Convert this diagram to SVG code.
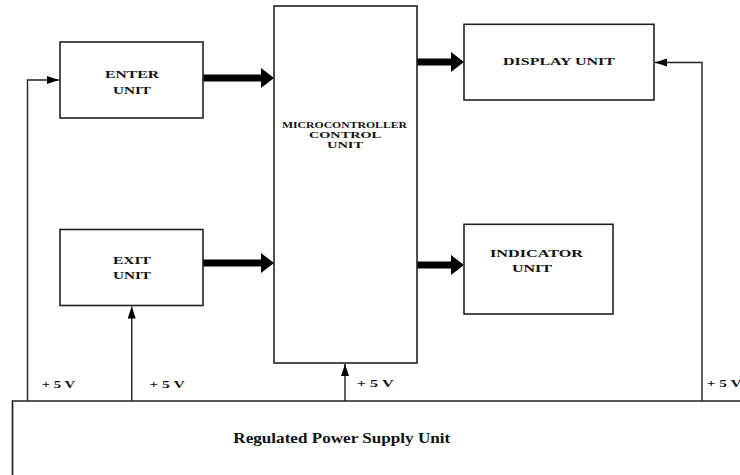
<svg xmlns="http://www.w3.org/2000/svg" width="740" height="475" viewBox="0 0 740 475">
<style>
.box{fill:#fff;stroke:#222;stroke-width:1.6}
.ln{fill:none;stroke:#222;stroke-width:1.4}
.thick{fill:#000;stroke:none}
.t{font-family:"Liberation Serif","Times New Roman",serif;font-weight:bold;fill:#111}
.s{font-size:10.5px}
.m{font-size:8px}
.v{font-size:10px}
.p{font-size:14px}
</style>
<defs>
<marker id="ah" markerUnits="userSpaceOnUse" markerWidth="13" markerHeight="9" refX="12" refY="4" orient="auto">
<path d="M0,0 L12,4 L0,8 z" fill="#000"/>
</marker>
</defs>
<rect width="740" height="475" fill="#fff"/>
<g id="connectors">
<path class="ln" d="M27.5,401 V80 H59" marker-end="url(#ah)"/>
<path class="ln" d="M131.7,401 V306.5" marker-end="url(#ah)"/>
<path class="ln" d="M345,401 V364" marker-end="url(#ah)"/>
<path class="ln" d="M702,401 V62.5 H655" marker-end="url(#ah)"/>
<polygon class="thick" points="203,74.5 261,74.5 261,68 274,78 261,88 261,81.5 203,81.5"/>
<polygon class="thick" points="203,259.5 261,259.5 261,253 274,263 261,273 261,266.5 203,266.5"/>
<polygon class="thick" points="417,58.5 451,58.5 451,52 464,62 451,72 451,65.5 417,65.5"/>
<polygon class="thick" points="417,261.5 451,261.5 451,255 464,265 451,275 451,268.5 417,268.5"/>
</g>
<g id="enter">
<rect class="box" x="60" y="42" width="143" height="76"/>
<text class="t s" x="105" y="78" textLength="54" lengthAdjust="spacingAndGlyphs">ENTER</text>
<text class="t s" x="113" y="93.5" textLength="38" lengthAdjust="spacingAndGlyphs">UNIT</text>
</g>
<g id="exit">
<rect class="box" x="60" y="229.5" width="143" height="76"/>
<text class="t s" x="113" y="263.5" textLength="38" lengthAdjust="spacingAndGlyphs">EXIT</text>
<text class="t s" x="113" y="278.5" textLength="38" lengthAdjust="spacingAndGlyphs">UNIT</text>
</g>
<g id="micro">
<rect class="box" x="274" y="6" width="143" height="357"/>
<text class="t m" x="282" y="127.7" textLength="125" lengthAdjust="spacingAndGlyphs">MICROCONTROLLER</text>
<text class="t m" x="309" y="137.7" textLength="72" lengthAdjust="spacingAndGlyphs">CONTROL</text>
<text class="t m" x="327" y="147.7" textLength="36" lengthAdjust="spacingAndGlyphs">UNIT</text>
</g>
<g id="display">
<rect class="box" x="464" y="24.3" width="190" height="75.7"/>
<text class="t s" x="503" y="65.3" textLength="112" lengthAdjust="spacingAndGlyphs">DISPLAY UNIT</text>
</g>
<g id="indicator">
<rect class="box" x="464" y="224.3" width="149" height="89.7"/>
<text class="t s" x="490" y="256.7" textLength="93" lengthAdjust="spacingAndGlyphs">INDICATOR</text>
<text class="t s" x="512" y="271.7" textLength="40" lengthAdjust="spacingAndGlyphs">UNIT</text>
</g>
<g id="power">
<path class="ln" style="stroke-width:1.7" d="M12.5,475 V401 H740"/>
<text class="t p" x="233.3" y="443.3" textLength="217" lengthAdjust="spacingAndGlyphs">Regulated Power Supply Unit</text>
</g>
<g id="labels">
<text class="t v" x="41.7" y="387.7" textLength="33.5" lengthAdjust="spacingAndGlyphs">+ 5 V</text>
<text class="t v" x="149.3" y="387.7" textLength="35.5" lengthAdjust="spacingAndGlyphs">+ 5 V</text>
<text class="t v" x="356.7" y="386.7" textLength="37" lengthAdjust="spacingAndGlyphs">+ 5 V</text>
<text class="t v" x="706.7" y="386.7" textLength="35" lengthAdjust="spacingAndGlyphs">+ 5 V</text>
</g>
</svg>
